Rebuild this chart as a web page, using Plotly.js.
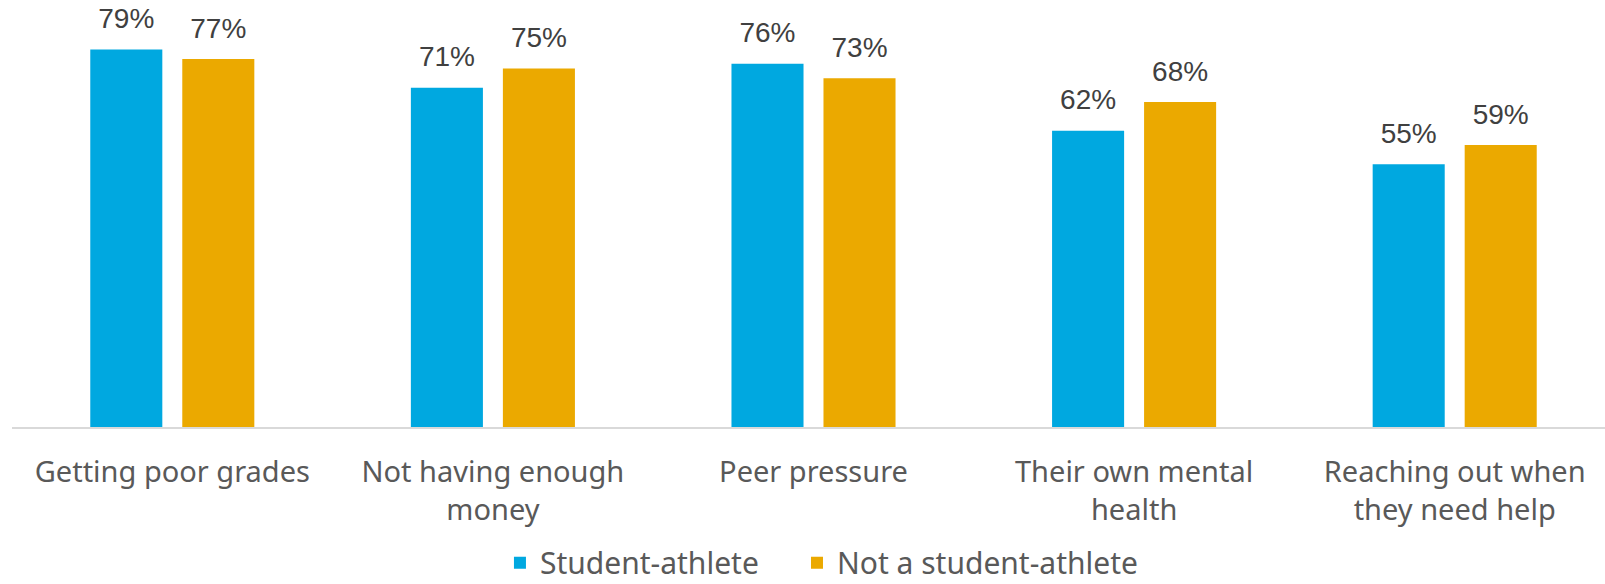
<!DOCTYPE html>
<html>
<head>
<meta charset="utf-8">
<script src="https://cdn.plot.ly/plotly-3.0.1.min.js"></script>
<style>
  html, body { margin: 0; padding: 0; overflow: hidden; background: #ffffff; }
  #chart { width: 1616px; height: 584px; }
</style>
</head>
<body>
<div id="chart"></div>
<script>
// ---- data ----
const categories = [
  "Getting poor grades",
  "Not having enough<br>money",
  "Peer pressure",
  "Their own mental<br>health",
  "Reaching out when<br>they need help"
];
const studentAthlete = [0.79, 0.71, 0.76, 0.62, 0.55];
const notStudentAthlete = [0.77, 0.75, 0.73, 0.68, 0.59];
const seriesNames = ["Student-athlete", "Not a student-athlete"];

// ---- style ----
const blue = "#00A8E0";
const gold = "#EBA900";
const labelGap = 0.026; // extra space between bar top and value label (data units)
const labelFont = { family: "Liberation Sans, Arial, sans-serif", size: 28, color: "#404040" };
const legendFont = { family: "Noto Sans, sans-serif", size: 30, color: "#595959" };

function pct(v) { return Math.round(v * 100) + "%"; }

const traces = [
  {
    type: "bar", name: seriesNames[0], x: categories, y: studentAthlete,
    marker: { color: blue }, offsetgroup: "a", hoverinfo: "skip", legend: "legend"
  },
  {
    type: "bar", name: seriesNames[1], x: categories, y: notStudentAthlete,
    marker: { color: gold }, offsetgroup: "b", hoverinfo: "skip", legend: "legend2"
  },
  {
    type: "bar", showlegend: false, x: categories,
    base: studentAthlete, y: studentAthlete.map(() => labelGap),
    marker: { color: "rgba(0,0,0,0)" }, offsetgroup: "a",
    text: studentAthlete.map(pct), textposition: "outside",
    textfont: labelFont, constraintext: "none", cliponaxis: false, hoverinfo: "skip"
  },
  {
    type: "bar", showlegend: false, x: categories,
    base: notStudentAthlete, y: notStudentAthlete.map(() => labelGap),
    marker: { color: "rgba(0,0,0,0)" }, offsetgroup: "b",
    text: notStudentAthlete.map(pct), textposition: "outside",
    textfont: labelFont, constraintext: "none", cliponaxis: false, hoverinfo: "skip"
  }
];

const layout = {
  width: 1616, height: 584,
  margin: { l: 12, r: 1, t: 6, b: 157 },
  paper_bgcolor: "#ffffff", plot_bgcolor: "#ffffff",
  barmode: "group",
  bargap: 0.426,
  bargroupgap: 0.217,
  showlegend: true,
  legend: {
    orientation: "h", xref: "paper", x: 0.3044, xanchor: "left",
    yref: "container", y: 0.081, yanchor: "top",
    font: legendFont
  },
  legend2: {
    orientation: "h", xref: "paper", x: 0.4897, xanchor: "left",
    yref: "container", y: 0.081, yanchor: "top",
    font: legendFont
  },
  xaxis: {
    type: "category", automargin: false,
    showline: true, linecolor: "#d9d9d9", linewidth: 2,
    showgrid: false, zeroline: false,
    ticks: "", ticklabelstandoff: 18,
    tickfont: { family: "Noto Sans, sans-serif", size: 29, color: "#595959" }
  },
  yaxis: {
    range: [0, 0.881], visible: false, showgrid: false, zeroline: false, fixedrange: true
  }
};

Plotly.newPlot("chart", traces, layout, { displayModeBar: false, staticPlot: true });
</script>
</body>
</html>
